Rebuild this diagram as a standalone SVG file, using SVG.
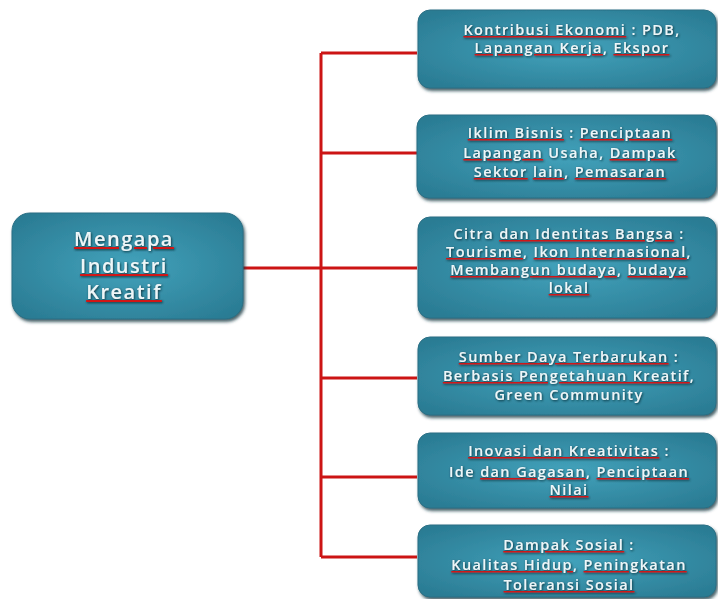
<svg xmlns="http://www.w3.org/2000/svg" width="718" height="599" viewBox="0 0 718 599">
<defs>
<radialGradient id="g" cx="50%" cy="50%" r="65%">
<stop offset="0" stop-color="#42a2bb"/>
<stop offset="1" stop-color="#2a7b93"/>
</radialGradient>
<filter id="sh" x="-5%" y="-10%" width="115%" height="130%">
<feDropShadow dx="1.5" dy="2.5" stdDeviation="1.5" flood-color="#1d3a44" flood-opacity="0.8"/>
</filter>
<filter id="ts" x="-5%" y="-20%" width="110%" height="140%">
<feDropShadow dx="0.8" dy="1" stdDeviation="0.8" flood-color="#0d2a33" flood-opacity="0.9"/>
</filter>
</defs>
<style>
.box{fill:url(#g);stroke:#2a6f84;stroke-width:1;filter:url(#sh)}
.t{font-family:"Open Sans","Liberation Sans",sans-serif;font-size:14.5px;font-weight:600;letter-spacing:1.4px;fill:#eef6f8;text-anchor:middle;filter:url(#ts)}
.big{font-size:20px;letter-spacing:1.5px}
.u{text-decoration:underline;fill:#d01818}
.u tspan{fill:#eef6f8}
.c{fill:none;stroke:#cc1414;stroke-width:3}
</style>
<g id="connectors">
<path class="c" d="M321 53 V557"/>
<path class="c" d="M321 53 H417"/>
<path class="c" d="M321 153 H417"/>
<path class="c" d="M243 268 H417"/>
<path class="c" d="M321 378 H417"/>
<path class="c" d="M321 477 H417"/>
<path class="c" d="M321 557 H417"/>
</g>
<g id="root">
<rect class="box" x="12" y="213" width="231" height="106" rx="18"/>
<text class="t big" x="124" y="246"><tspan class="u"><tspan>Mengapa</tspan></tspan></text>
<text class="t big" x="124" y="273"><tspan class="u"><tspan>Industri</tspan></tspan></text>
<text class="t big" x="124" y="299"><tspan class="u"><tspan>Kreatif</tspan></tspan></text>
</g>
<g id="n1">
<rect class="box" x="418" y="10" width="298" height="78" rx="12"/>
<text class="t" x="572" y="35"><tspan class="u"><tspan>Kontribusi Ekonomi</tspan></tspan> : PDB,</text>
<text class="t" x="572" y="53"><tspan class="u"><tspan>Lapangan Kerja</tspan></tspan>, <tspan class="u"><tspan>Ekspor</tspan></tspan></text>
</g>
<g id="n2">
<rect class="box" x="417" y="115" width="299" height="83" rx="12"/>
<text class="t" x="570" y="138"><tspan class="u"><tspan>Iklim Bisnis</tspan></tspan> : <tspan class="u"><tspan>Penciptaan</tspan></tspan></text>
<text class="t" x="570" y="158"><tspan class="u"><tspan>Lapangan</tspan></tspan> Usaha, <tspan class="u"><tspan>Dampak</tspan></tspan></text>
<text class="t" x="570" y="177"><tspan class="u"><tspan>Sektor</tspan></tspan> <tspan class="u"><tspan>lain</tspan></tspan>, <tspan class="u"><tspan>Pemasaran</tspan></tspan></text>
</g>
<g id="n3">
<rect class="box" x="418" y="217" width="298" height="101" rx="12"/>
<text class="t" x="569" y="239">Citra <tspan class="u"><tspan>dan Identitas Bangsa</tspan></tspan> :</text>
<text class="t" x="569" y="257"><tspan class="u"><tspan>Tourisme</tspan></tspan>, <tspan class="u"><tspan>Ikon Internasional</tspan></tspan>,</text>
<text class="t" x="569" y="275"><tspan class="u"><tspan>Membangun budaya</tspan></tspan>, <tspan class="u"><tspan>budaya</tspan></tspan></text>
<text class="t" x="569" y="293"><tspan class="u"><tspan>lokal</tspan></tspan></text>
</g>
<g id="n4">
<rect class="box" x="418" y="337" width="298" height="78" rx="12"/>
<text class="t" x="569" y="362"><tspan class="u"><tspan>Sumber Daya Terbarukan</tspan></tspan> :</text>
<text class="t" x="569" y="381"><tspan class="u"><tspan>Berbasis Pengetahuan Kreatif</tspan></tspan>,</text>
<text class="t" x="569" y="400">Green Community</text>
</g>
<g id="n5">
<rect class="box" x="418" y="433" width="298" height="75" rx="12"/>
<text class="t" x="569" y="456"><tspan class="u"><tspan>Inovasi dan Kreativitas</tspan></tspan> :</text>
<text class="t" x="569" y="477">Ide <tspan class="u"><tspan>dan Gagasan</tspan></tspan>, <tspan class="u"><tspan>Penciptaan</tspan></tspan></text>
<text class="t" x="569" y="495"><tspan class="u"><tspan>Nilai</tspan></tspan></text>
</g>
<g id="n6">
<rect class="box" x="418" y="525" width="298" height="72" rx="12"/>
<text class="t" x="569" y="550"><tspan class="u"><tspan>Dampak Sosial</tspan></tspan> :</text>
<text class="t" x="569" y="570"><tspan class="u"><tspan>Kualitas Hidup</tspan></tspan>, <tspan class="u"><tspan>Peningkatan</tspan></tspan></text>
<text class="t" x="569" y="590"><tspan class="u"><tspan>Toleransi Sosial</tspan></tspan></text>
</g>
</svg>
